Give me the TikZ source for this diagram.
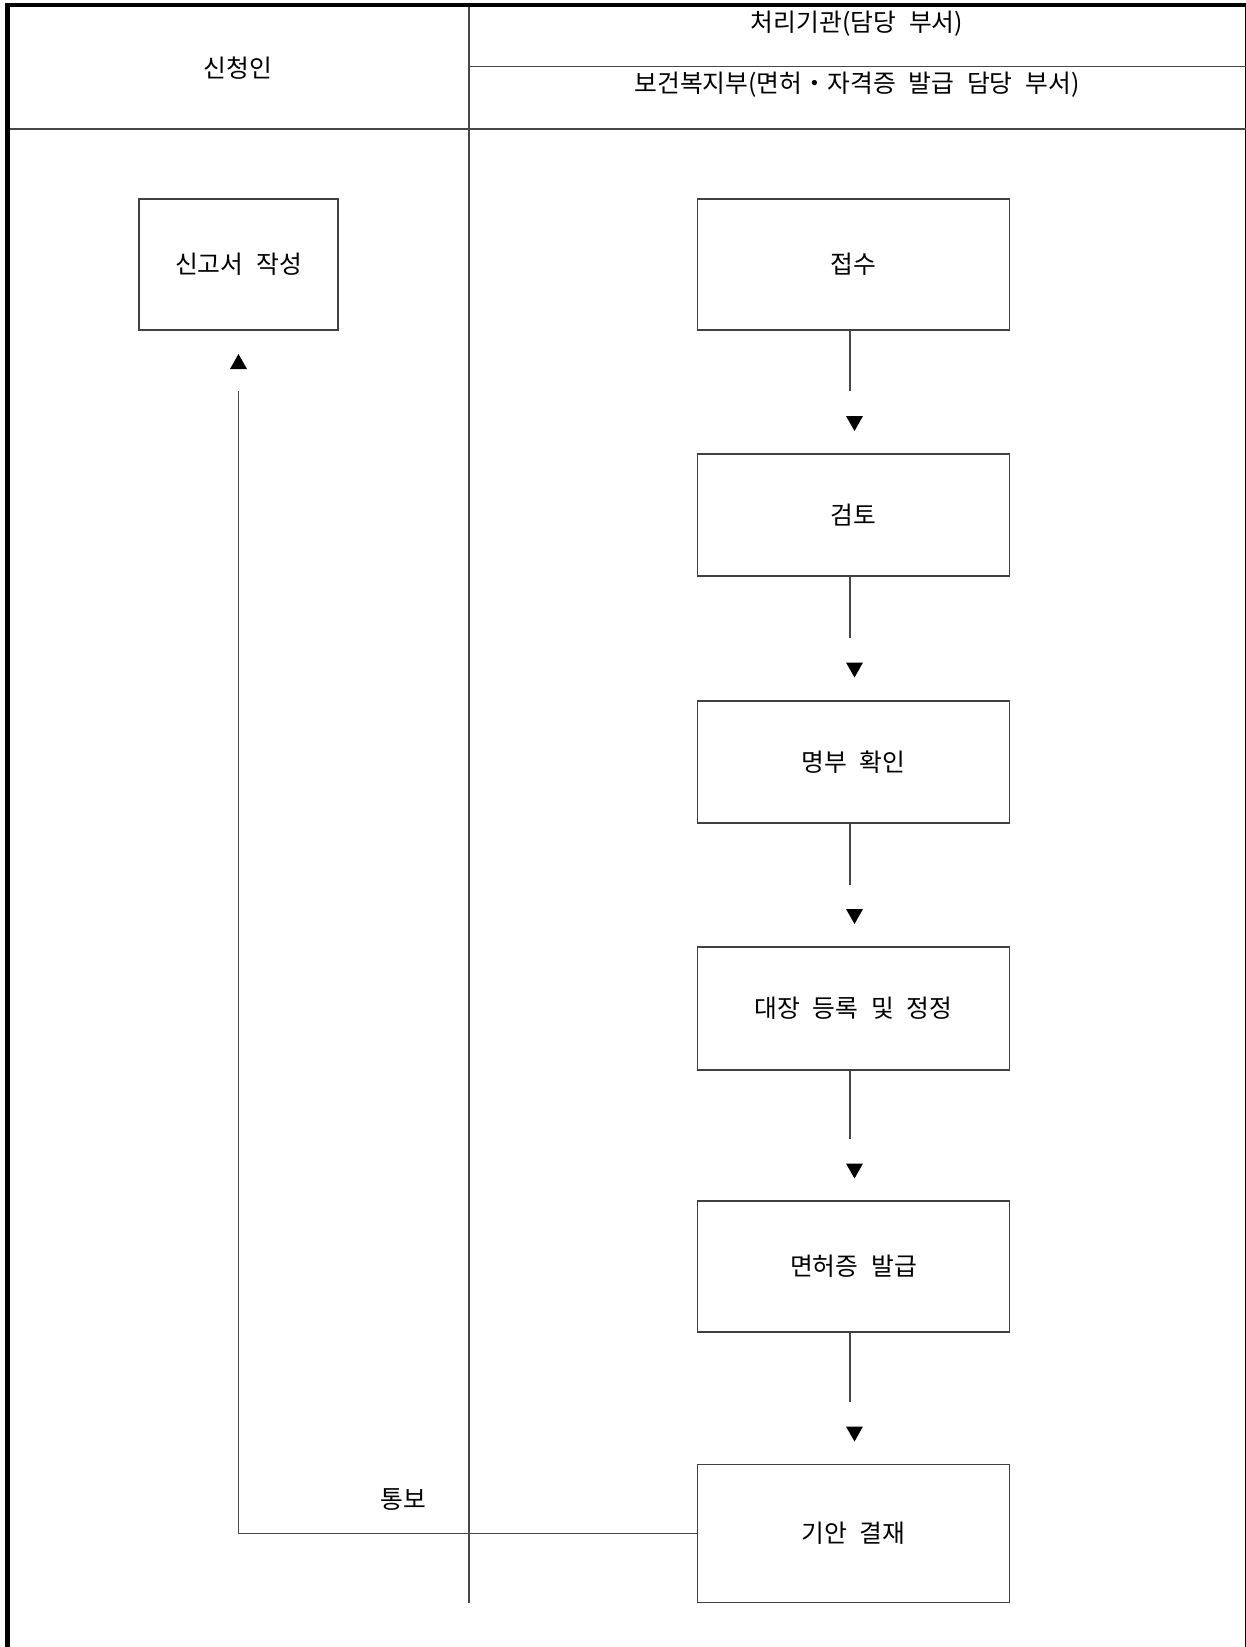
\documentclass[tikz,border=0pt]{standalone}
\usepackage{fontspec}
\setmainfont[WordSpace=2.3]{Noto Sans CJK KR}
\begin{document}
\begin{tikzpicture}[x=1pt,y=-1pt,
  line/.style={draw=black!72,line width=1.3pt},
  box/.style={draw=black!75,line width=1.3pt,fill=white,inner sep=0pt,
    font=\fontsize{24.8}{29}\selectfont},
  lbl/.style={inner sep=0pt,font=\fontsize{24.8}{29}\selectfont},
  downtri/.pic={\fill[black] (-8.5,-7.5) -- (8.5,-7.5) -- (0,7.5) -- cycle;},
  uptri/.pic={\fill[black] (-8.5,7.5) -- (8.5,7.5) -- (0,-7.5) -- cycle;}]
\useasboundingbox (0,0) rectangle (1246,1647);
% frame
\draw[line width=4.5pt] (7.5,1647) -- (7.5,2.8);
\draw[line width=4pt] (5.3,4.8) -- (1246,4.8);
\draw[line width=1.6pt] (1245.4,4.8) -- (1245.4,1647);
% header lines
\draw[line] (469,66.7) -- (1246,66.7);
\draw[line] (9.7,129) -- (1246,129);
\draw[line] (469,6.8) -- (469,1603);
% header texts
\node[lbl] (hA) at (238,68) {신청인};
\node[lbl] (hB) at (857,24) {처리기관(담당 부서)};
\node[lbl] (hC) at (857,85) {보건복지부(면허・자격증 발급 담당 부서)};
% boxes
\node[box,minimum width=199pt,minimum height=131pt] (b1) at (238.5,264.5) {신고서 작성};
\node[box,minimum width=312pt,minimum height=131pt] (r1) at (853.6,264.5) {접수};
\node[box,minimum width=312pt,minimum height=122pt] (r2) at (853.6,515) {검토};
\node[box,minimum width=312pt,minimum height=122pt] (r3) at (853.6,762) {명부 확인};
\node[box,minimum width=312pt,minimum height=123pt] (r4) at (853.6,1008.5) {대장 등록 및 정정};
\node[box,minimum width=312pt,minimum height=131pt] (r5) at (853.6,1266.5) {면허증 발급};
\node[box,minimum width=312pt,minimum height=138pt] (r6) at (853.6,1533.5) {기안 결재};
% connectors with gaps and triangles
\coordinate (e1) at (850,391);
\coordinate (e2) at (850,638);
\coordinate (e3) at (850,885);
\coordinate (e4) at (850,1139);
\coordinate (e5) at (850,1402);
\draw[line] (r1.south -| e1) -- (e1);
\draw[line] (r2.south -| e2) -- (e2);
\draw[line] (r3.south -| e3) -- (e3);
\draw[line] (r4.south -| e4) -- (e4);
\draw[line] (r5.south -| e5) -- (e5);
\pic at (854.5,423.5) {downtri};
\pic at (854.5,670) {downtri};
\pic at (854.5,916.5) {downtri};
\pic at (854.5,1171) {downtri};
\pic at (854.5,1434) {downtri};
% feedback
\coordinate (fb) at (238.5,391);
\draw[line] (r6.west) -- (r6.west -| fb) -- (fb);
\pic at (238.5,361.5) {uptri};
\node[lbl] (tb) at (403,1499) {통보};
\end{tikzpicture}
\end{document}
